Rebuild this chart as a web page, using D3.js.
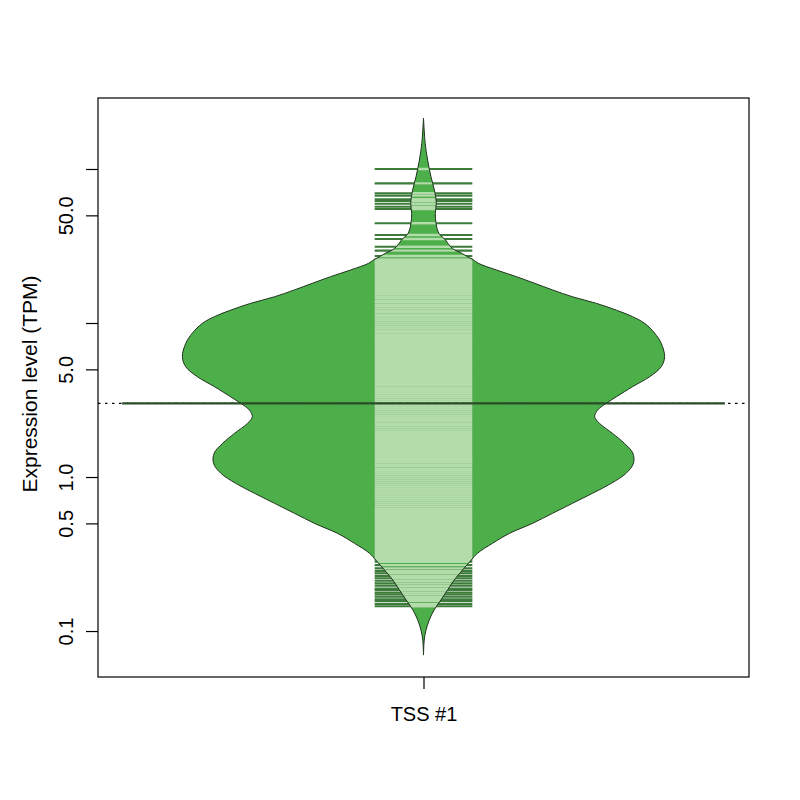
<!DOCTYPE html>
<html><head><meta charset="utf-8">
<script src="https://cdn.jsdelivr.net/npm/d3@7"></script>
<style>body{margin:0;background:#fff} text{font-family:"Liberation Sans",Arial,Helvetica,sans-serif;fill:#000}</style>
</head><body><svg id="c" width="800" height="800"></svg>
<script>
const categories = ["TSS #1"];
const yTickValues = [0.1, 0.5, 1, 5, 10, 50, 100];
const yTickLabels = ["0.1", "0.5", "1.0", "5.0", "", "50.0", ""];
const yTitle = "Expression level (TPM)";
const yDomain = [0.0503, 289];
const xDomain = [0.46, 1.54];

// bean outline: expression value (TPM) and relative half-width of the density
const densityTPM = [214.3, 146.8, 114.4, 89.1, 73.1, 59.9, 51.6, 44.4, 38.2, 34.6, 31.3, 29.8, 28.4, 26.9, 25.7, 24.4,
  22.1, 20.0, 18.1, 16.4, 14.8, 13.4, 12.1, 11.0, 9.95, 8.58, 7.38, 6.04, 5.20, 4.48, 3.86, 3.32, 3.01, 2.72, 2.46,
  2.23, 1.92, 1.65, 1.43, 1.23, 1.06, 0.910, 0.784, 0.675, 0.581, 0.500, 0.431, 0.371, 0.320, 0.289, 0.249, 0.214,
  0.185, 0.159, 0.137, 0.118, 0.101, 0.0874, 0.0698];
const densityWidth = [0, 0.007, 0.017, 0.031, 0.045, 0.053, 0.049, 0.052, 0.064, 0.091, 0.112, 0.129, 0.158, 0.183, 0.207, 0.228,
  0.302, 0.385, 0.461, 0.535, 0.618, 0.718, 0.801, 0.867, 0.917, 0.959, 0.986, 1.0, 0.986, 0.938, 0.867, 0.800, 0.758, 0.722, 0.710,
  0.730, 0.784, 0.834, 0.868, 0.871, 0.841, 0.779, 0.701, 0.618, 0.535, 0.452, 0.357, 0.286, 0.224, 0.198, 0.162, 0.127,
  0.100, 0.072, 0.044, 0.024, 0.010, 0.003, 0];

// individual observations (bean lines), TPM
const expression = [100.0, 80.7, 69.5, 67.1, 63.6, 62.0, 59.5, 56.9, 55.0, 44.4, 37.3, 35.1, 31.3, 29.5, 27.2, 25.9,
  25.2, 24.6, 23.9, 23.1, 22.5, 21.8, 21.2, 20.5, 19.9, 19.4, 18.7, 18.2, 17.7, 17.1, 16.7, 16.1, 15.7, 15.3, 14.8, 14.4,
  13.9, 13.6, 13.1, 12.8, 12.4, 12.0, 11.7, 11.3, 11.0, 10.7, 10.4, 10.1, 9.79, 9.50, 9.23, 8.95, 8.70, 8.44, 8.20, 7.96,
  7.73, 7.50, 7.28, 7.07, 6.87, 6.66, 6.47, 6.28, 6.10, 5.92, 5.75, 5.58, 5.42, 5.26, 5.11, 4.96, 4.82, 4.67, 4.54, 4.41,
  4.28, 4.15, 4.03, 3.92, 3.80, 3.69, 3.58, 3.48, 3.38, 3.28, 3.18, 3.09, 3.00, 2.91, 2.83, 2.75, 2.67, 2.59, 2.51, 2.44,
  2.37, 2.30, 2.23, 2.17, 2.10, 2.04, 1.98, 1.93, 1.87, 1.82, 1.76, 1.71, 1.66, 1.61, 1.57, 1.52, 1.48, 1.43, 1.39, 1.35,
  1.31, 1.27, 1.24, 1.20, 1.17, 1.13, 1.10, 1.07, 1.04, 1.01, 0.978, 0.947, 0.920, 0.893, 0.867, 0.842, 0.817, 0.793,
  0.770, 0.748, 0.726, 0.705, 0.684, 0.664, 0.645, 0.626, 0.608, 0.590, 0.573, 0.556, 0.540, 0.524, 0.509, 0.494, 0.480,
  0.466, 0.452, 0.439, 0.426, 0.414, 0.402, 0.390, 0.379, 0.368, 0.357, 0.347, 0.336, 0.327, 0.317, 0.308, 0.299, 0.290,
  0.282, 0.268, 0.255, 0.245, 0.237, 0.228, 0.220, 0.212, 0.204, 0.197, 0.189, 0.185, 0.178, 0.173, 0.167, 0.161, 0.157,
  0.150, 0.145];
const beanMean = [3.01];
const overallMean = 3.01;

const colFill = "#4daf4a", colInner = "#b3dcab", colOuter = "#3d7b3b", colAvg = "#2c4d2a", colBorder = "#1f331e";

const svg = d3.select("#c");
const x = d3.scaleLinear().domain(xDomain).range([98, 749]);
const y = d3.scaleLog().domain(yDomain).range([677, 98]);
const maxHalf = 0.4, lineHalf = 0.081, avgHalf = 0.5;

const outline = densityTPM.map((v, i) => ({v, w: densityWidth[i]}));

categories.forEach((cat, ci) => {
  const cx = ci + 1;
  const area = d3.area()
    .y(d => y(d.v))
    .x0(d => x(cx - d.w * maxHalf))
    .x1(d => x(cx + d.w * maxHalf))
    .curve(d3.curveCatmullRom);
  const pathD = area(outline);

  svg.append("clipPath").attr("id", "beanclip" + ci).append("path").attr("d", pathD);

  svg.append("path").attr("d", pathD).attr("fill", colFill).attr("stroke", "none");

  // bean lines: outer colour, then inner colour clipped to bean
  svg.append("g").selectAll("line").data(expression).join("line")
    .attr("x1", x(cx - lineHalf)).attr("x2", x(cx + lineHalf))
    .attr("y1", d => y(d)).attr("y2", d => y(d))
    .attr("stroke", colOuter).attr("stroke-width", 2.1);
  svg.append("g").attr("clip-path", `url(#beanclip${ci})`).selectAll("line").data(expression).join("line")
    .attr("x1", x(cx - lineHalf)).attr("x2", x(cx + lineHalf))
    .attr("y1", d => y(d)).attr("y2", d => y(d))
    .attr("stroke", colInner).attr("stroke-width", 2.4);

  svg.append("path").attr("d", pathD).attr("fill", "none").attr("stroke", colBorder).attr("stroke-width", 1);

  // overall mean dotted line
  svg.append("line")
    .attr("x1", 98).attr("x2", 749).attr("y1", y(overallMean)).attr("y2", y(overallMean))
    .attr("stroke", "#000").attr("stroke-width", 1.2).attr("stroke-dasharray", "2.5,4.5");

  svg.append("line")
    .attr("x1", x(cx - avgHalf)).attr("x2", x(cx + avgHalf))
    .attr("y1", y(beanMean[ci])).attr("y2", y(beanMean[ci]))
    .attr("stroke", colAvg).attr("stroke-width", 2.2);
});

// box
svg.append("rect").attr("x", 98).attr("y", 98).attr("width", 651).attr("height", 579)
  .attr("fill", "none").attr("stroke", "#000").attr("stroke-width", 1.2);

// y axis
const yAxis = svg.append("g").attr("transform", "translate(98,0)")
  .call(d3.axisLeft(y).tickValues(yTickValues).tickFormat((d, i) => yTickLabels[i]).tickSize(12));
yAxis.select(".domain").remove();
yAxis.selectAll(".tick line").attr("stroke", "#000").attr("stroke-width", 1.2);
yAxis.selectAll(".tick text")
  .attr("transform", "rotate(-90)").attr("x", 0).attr("y", -25).attr("dy", 0)
  .attr("text-anchor", "middle").style("font-size", "20px");

// x axis
const xAxis = svg.append("g").attr("transform", "translate(0,677)")
  .call(d3.axisBottom(x).tickValues(categories.map((c, i) => i + 1)).tickFormat((d, i) => categories[i]).tickSize(12));
xAxis.select(".domain").remove();
xAxis.selectAll(".tick line").attr("stroke", "#000").attr("stroke-width", 1.2);
xAxis.selectAll(".tick text").attr("y", 44).attr("dy", 0).style("font-size", "20px");

svg.append("text").attr("transform", "translate(37,384) rotate(-90)")
  .attr("text-anchor", "middle").style("font-size", "21px").text(yTitle);
</script></body></html>
